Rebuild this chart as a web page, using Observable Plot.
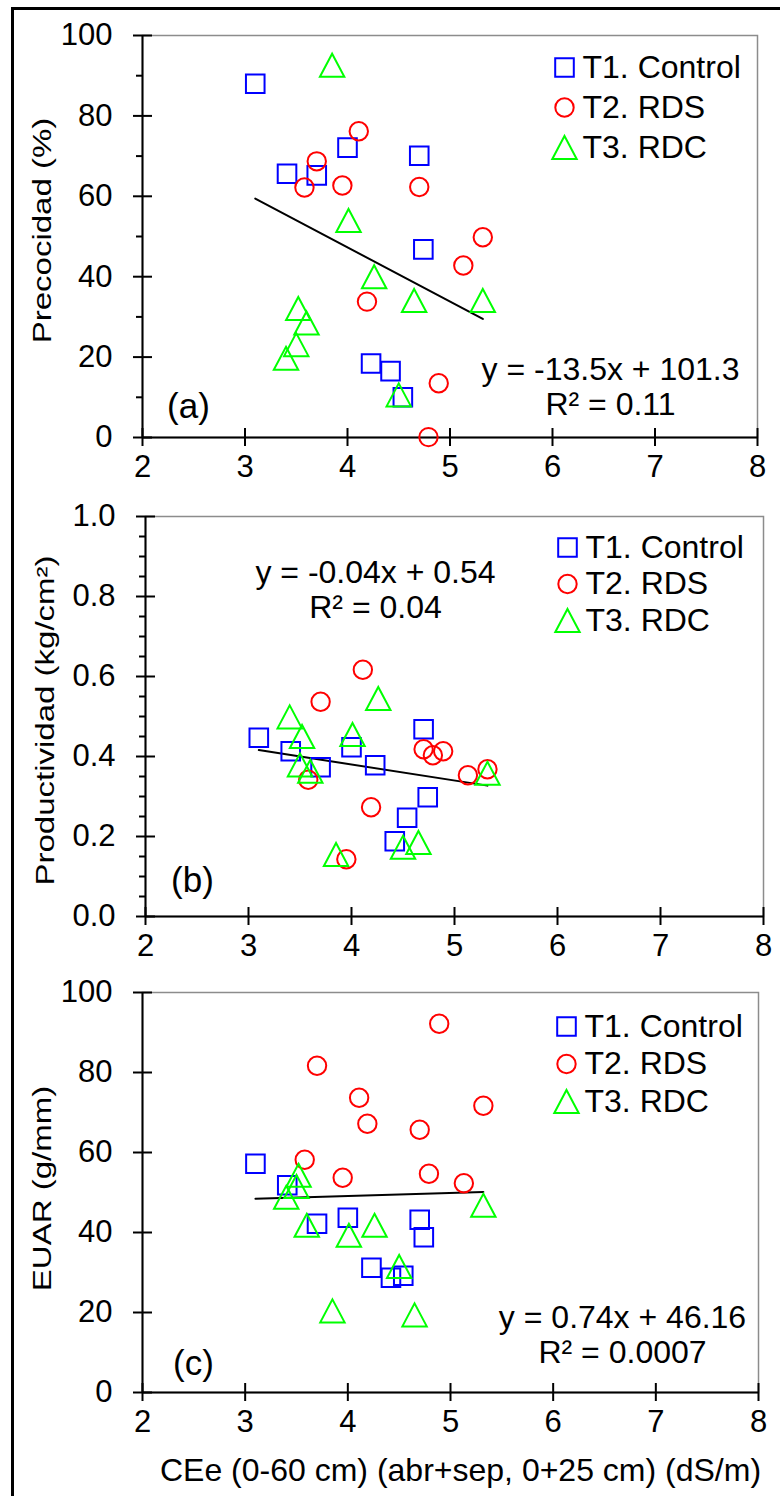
<!DOCTYPE html>
<html>
<head>
<meta charset="utf-8">
<script src="https://cdn.jsdelivr.net/npm/d3@7"></script>
<script src="https://cdn.jsdelivr.net/npm/@observablehq/plot@0.6"></script>
<style>
  body { margin: 0; background: #fff; }
  #chart { position: relative; width: 780px; height: 1496px; background: #fff; overflow: hidden; }
  #chart svg { position: absolute; left: 0; }
  #border { position: absolute; left: 11px; top: 7px; width: 820px; height: 1520px;
            border-left: 3px solid #000; border-top: 3px solid #000; pointer-events: none; }
</style>
</head>
<body>
<div id="chart"><div id="border"></div></div>
<script>
// ---------------- data ----------------
const treatments = ["T1. Control", "T2. RDS", "T3. RDC"];
const colors = ["#0000ff", "#ff0000", "#00ff00"];

// CEe (dS/m) for each plot of each treatment
const ceT1 = [3.10, 3.41, 3.70, 4.00, 4.23, 4.42, 4.54, 4.70, 4.74];
const ceT2 = [3.58, 3.70, 3.95, 4.11, 4.19, 4.70, 4.79, 4.89, 5.13, 5.32];
const ceT3 = [3.40, 3.50, 3.52, 3.60, 3.85, 4.01, 4.26, 4.50, 4.65, 5.32];

// (a) Precocidad (%)
const precT1 = [88.0, 65.6, 65.2, 72.1, 18.4, 16.5, 10.0, 70.1, 46.8];
const precT2 = [62.2, 68.7, 62.7, 76.2, 33.8, 62.3, 0.1, 13.5, 42.8, 49.8];
const precT3 = [19.7, 23.1, 32.1, 28.5, 92.6, 54.0, 40.0, 10.6, 34.1, 34.1];

// (b) Productividad (kg/cm2)
const prodT1 = [0.447, 0.413, 0.373, 0.423, 0.378, 0.188, 0.247, 0.468, 0.298];
const prodT2 = [0.342, 0.537, 0.143, 0.617, 0.273, 0.418, 0.403, 0.413, 0.353, 0.368];
const prodT3 = [0.499, 0.379, 0.450, 0.363, 0.155, 0.455, 0.545, 0.173, 0.185, 0.358];

// (c) EUAR (g/mm)
const euarT1 = [57.2, 51.8, 42.2, 43.7, 31.2, 28.7, 29.2, 43.2, 38.8];
const euarT2 = [58.2, 81.7, 53.7, 73.7, 67.2, 65.7, 54.7, 92.2, 52.3, 71.7];
const euarT3 = [48.8, 51.5, 54.3, 41.8, 20.4, 39.3, 41.8, 31.5, 19.4, 46.8];

// linear fits
const slopes = [-13.5, -0.04, 0.74];
const intercepts = [101.3, 0.54, 46.16];
const eqLabels = ["y = -13.5x + 101.3", "y = -0.04x + 0.54", "y = 0.74x + 46.16"];
const r2Labels = ["R\u00b2 = 0.11", "R\u00b2 = 0.04", "R\u00b2 = 0.0007"];
const panelTags = ["(a)", "(b)", "(c)"];
const yLabels = ["Precocidad (%)", "Productividad (kg/cm\u00b2)", "EUAR (g/mm)"];
const xTitle = "CEe (0-60 cm) (abr+sep, 0+25 cm) (dS/m)";

// ticks
const xTicks = [2, 3, 4, 5, 6, 7, 8];
const yTicksPct = [0, 20, 40, 60, 80, 100];
const yMinorPct = [10, 30, 50, 70, 90];
const yTicksProd = [0, 0.2, 0.4, 0.6, 0.8, 1.0];
const yMinorProd = [0.05, 0.1, 0.15, 0.25, 0.3, 0.35, 0.45, 0.5, 0.55, 0.65, 0.7, 0.75, 0.85, 0.9, 0.95];
const yTicksEuar = [0, 20, 40, 60, 80, 100];
const yMinorEuar = [];

// ---------------- helpers ----------------
const FONT = "'Liberation Sans', Arial, Helvetica, sans-serif";
const TXT = 32;
const TICK = 31;
const ceAll = [ceT1, ceT2, ceT3];

function rows(series) {
  const out = [];
  series.forEach((vals, i) => vals.forEach((v, j) => out.push({t: treatments[i], ce: ceAll[i][j], v})));
  return out;
}

const squareSym = {draw(ctx) { const s = 9.3; ctx.moveTo(-s, -s); ctx.lineTo(s, -s); ctx.lineTo(s, s); ctx.lineTo(-s, s); ctx.closePath(); }};
const circleSym = {draw(ctx) { const r = 9.2; ctx.moveTo(r, 0); ctx.arc(0, 0, r, 0, 2 * Math.PI); }};
const triSym = {draw(ctx) { ctx.moveTo(0, -11.5); ctx.lineTo(12.2, 11.5); ctx.lineTo(-12.2, 11.5); ctx.closePath(); }};

const ceExtent = d3.extent([...ceT1, ...ceT2, ...ceT3]);

function panel(cfg) {
  const data = rows(cfg.series);
  const fit = ceExtent.map(x => ({ce: x, v: slopes[cfg.k] * x + intercepts[cfg.k]}));
  const marks = [
    Plot.frame({stroke: "#8c8c8c", strokeWidth: 1.5}),
    Plot.ruleX([2], {stroke: "#000", strokeWidth: 2}),
    Plot.ruleY([cfg.yDomain[0]], {stroke: "#000", strokeWidth: 2}),
    // x axis (ticks crossing the axis)
    Plot.axisX({ticks: xTicks, tickSize: 9, tickPadding: 8, fontSize: TICK, strokeWidth: 2, label: null, tickFormat: d => String(d)}),
    Plot.axisX({ticks: xTicks, tickSize: -9, strokeWidth: 2, label: null, tickFormat: () => ""}),
    // y axis
    Plot.axisY({ticks: cfg.yTicks, tickSize: 9, tickPadding: 21, fontSize: TICK, strokeWidth: 2, label: null, tickFormat: cfg.yFmt}),
    Plot.axisY({ticks: cfg.yTicks, tickSize: -10, strokeWidth: 2, label: null, tickFormat: () => ""}),
    Plot.axisY({ticks: cfg.yMinor, tickSize: 6, strokeWidth: 2, label: null, tickFormat: () => ""}),
    // y title
    Plot.text([yLabels[cfg.k]], {frameAnchor: "left", rotate: -90, dx: -100, dy: cfg.yTitleDy, fontSize: 33, lineAnchor: "middle", textAnchor: "middle"}),
    // fit line
    Plot.line(fit, {x: "ce", y: "v", stroke: "#000", strokeWidth: 2}),
    // points
    Plot.dot(data, {x: "ce", y: "v", symbol: "t", stroke: "t", strokeWidth: 2, fill: "none"}),
    // equation
    Plot.text([eqLabels[cfg.k]], {frameAnchor: cfg.eqAnchor, dx: cfg.eqDx, dy: cfg.eqDy[0], fontSize: TXT, textAnchor: "middle", lineAnchor: "middle"}),
    Plot.text([r2Labels[cfg.k]], {frameAnchor: cfg.eqAnchor, dx: cfg.eqDx, dy: cfg.eqDy[1], fontSize: TXT, textAnchor: "middle", lineAnchor: "middle"}),
    // panel tag
    Plot.text([panelTags[cfg.k]], {frameAnchor: "bottom-left", dx: cfg.tagDx, dy: cfg.tagDy, fontSize: 35, textAnchor: "middle", lineAnchor: "middle"})
  ];
  treatments.forEach((t, i) => {
    marks.push(Plot.dot([t], {frameAnchor: "top-right", dx: cfg.legDx, dy: cfg.legDy + i * cfg.legStep, symbol: d => d, stroke: d => d, strokeWidth: 2, fill: "none"}));
    marks.push(Plot.text([t], {frameAnchor: "top-right", dx: cfg.legTextDx, dy: cfg.legDy + i * cfg.legStep, fontSize: TXT, textAnchor: "start", lineAnchor: "middle"}));
  });
  if (cfg.xTitle) {
    marks.push(Plot.text([xTitle], {frameAnchor: "bottom", dx: 10, dy: 78, fontSize: TXT, textAnchor: "middle", lineAnchor: "middle"}));
  }
  const svg = Plot.plot({
    width: 780,
    height: cfg.height,
    marginTop: cfg.mt, marginBottom: cfg.mb, marginLeft: cfg.ml, marginRight: cfg.mr,
    style: {fontFamily: FONT, background: "transparent", overflow: "visible", color: "#000"},
    x: {domain: [2, 8]},
    y: {domain: cfg.yDomain},
    symbol: {domain: treatments, range: [squareSym, circleSym, triSym]},
    color: {domain: treatments, range: colors},
    marks
  });
  svg.style.top = cfg.top + "px";
  // compress glyph height of the rotated y title
  d3.select(svg).selectAll("text").each(function() {
    if (this.textContent === yLabels[cfg.k]) {
      const tr = this.getAttribute("transform") || "";
      this.setAttribute("transform", tr + " scale(1,0.8)");
    }
  });
  document.getElementById("chart").appendChild(svg);
}

panel({k: 0, series: [precT1, precT2, precT3], yDomain: [0, 100], yTicks: yTicksPct, yMinor: yMinorPct, yFmt: d => String(d),
  top: 0, height: 490, mt: 35, mb: 53, ml: 142, mr: 23, yTitleDy: -6,
  eqAnchor: "bottom-left", eqDx: 468, eqDy: [-68, -33], tagDx: 46, tagDy: -31,
  legDx: -193, legDy: 32, legStep: 40, legTextDx: -175});

panel({k: 1, series: [prodT1, prodT2, prodT3], yDomain: [0, 1], yTicks: yTicksProd, yMinor: yMinorProd, yFmt: d3.format(".1f"),
  top: 490, height: 470, mt: 26, mb: 44, ml: 145, mr: 17, yTitleDy: 4,
  eqAnchor: "top-left", eqDx: 230, eqDy: [56, 91], tagDx: 47, tagDy: -36,
  legDx: -196, legDy: 31, legStep: 36.5, legTextDx: -178});

panel({k: 2, series: [euarT1, euarT2, euarT3], yDomain: [0, 100], yTicks: yTicksEuar, yMinor: yMinorEuar, yFmt: d => String(d),
  top: 960, height: 536, mt: 32, mb: 104, ml: 142, mr: 22, yTitleDy: -4,
  eqAnchor: "bottom-left", eqDx: 480, eqDy: [-75, -40], tagDx: 51, tagDy: -29,
  legDx: -192, legDy: 34, legStep: 37.5, legTextDx: -174, xTitle: true});
</script>
</body>
</html>
